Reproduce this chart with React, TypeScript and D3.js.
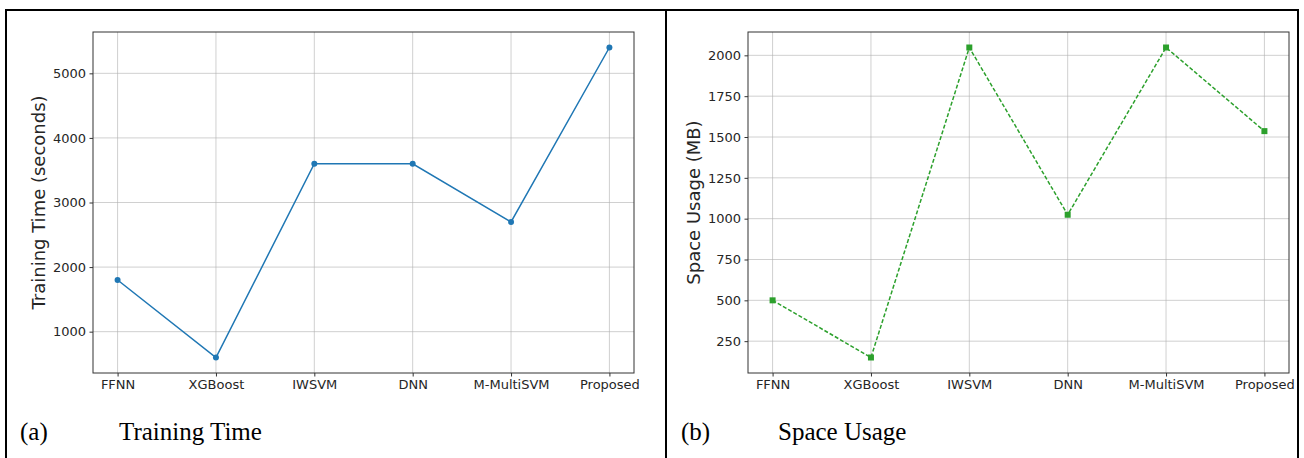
import React, { useEffect, useRef } from 'react';
import * as d3 from 'd3';

const models = ['FFNN', 'XGBoost', 'IWSVM', 'DNN', 'M-MultiSVM', 'Proposed'];
const trainingTime = [1800, 600, 3600, 3600, 2700, 5400];
const spaceUsage = [500, 150, 2048, 1024, 2048, 1536];
const timeTicks = [1000, 2000, 3000, 4000, 5000];
const spaceTicks = [250, 500, 750, 1000, 1250, 1500, 1750, 2000];

const W = 1304;
const H = 458;

type Panel = {
  left: number;
  right: number;
  values: number[];
  ticks: number[];
  yLabel: string;
  color: string;
  dashed: boolean;
  marker: 'circle' | 'square';
  tag: string;
  caption: string;
};

const panels: Panel[] = [
  {
    left: 93, right: 634, values: trainingTime, ticks: timeTicks,
    yLabel: 'Training Time (seconds)', color: '#1f77b4', dashed: false,
    marker: 'circle', tag: '(a)', caption: 'Training Time'
  },
  {
    left: 748, right: 1289, values: spaceUsage, ticks: spaceTicks,
    yLabel: 'Space Usage (MB)', color: '#2ca02c', dashed: true,
    marker: 'square', tag: '(b)', caption: 'Space Usage'
  }
];

const TOP = 32;
const BOTTOM = 373;

function drawPanel(svg: d3.Selection<SVGSVGElement, unknown, null, undefined>, p: Panel) {
  const x = d3.scaleLinear()
    .domain([-0.25, models.length - 0.75])
    .range([p.left, p.right]);
  const lo = d3.min(p.values)!;
  const hi = d3.max(p.values)!;
  const pad = (hi - lo) * 0.05;
  const y = d3.scaleLinear().domain([lo - pad, hi + pad]).range([BOTTOM, TOP]);

  const g = svg.append('g');

  // grid
  g.append('g')
    .selectAll('line')
    .data(p.ticks)
    .join('line')
    .attr('x1', p.left).attr('x2', p.right)
    .attr('y1', d => y(d)).attr('y2', d => y(d))
    .attr('stroke', '#b0b0b0').attr('stroke-opacity', 0.6).attr('stroke-width', 1);
  g.append('g')
    .selectAll('line')
    .data(models.map((_, i) => i))
    .join('line')
    .attr('x1', d => x(d)).attr('x2', d => x(d))
    .attr('y1', TOP).attr('y2', BOTTOM)
    .attr('stroke', '#b0b0b0').attr('stroke-opacity', 0.6).attr('stroke-width', 1);

  // axes
  const xAxis = d3.axisBottom(x)
    .tickValues(models.map((_, i) => i))
    .tickFormat((d) => models[d as number])
    .tickSize(3.5).tickPadding(3.5);
  const yAxis = d3.axisLeft(y)
    .tickValues(p.ticks)
    .tickFormat(d3.format('d'))
    .tickSize(3.5).tickPadding(3.5);

  const ax = g.append('g').attr('transform', `translate(0,${BOTTOM})`).call(xAxis);
  const ay = g.append('g').attr('transform', `translate(${p.left},0)`).call(yAxis);
  [ax, ay].forEach(a => {
    a.select('.domain').remove();
    a.selectAll('line').attr('stroke', '#333');
    a.selectAll('text')
      .attr('fill', '#262626')
      .style('font-family', '"DejaVu Sans", sans-serif')
      .style('font-size', '13px');
  });

  g.append('rect')
    .attr('x', p.left).attr('y', TOP)
    .attr('width', p.right - p.left).attr('height', BOTTOM - TOP)
    .attr('fill', 'none').attr('stroke', '#333').attr('stroke-width', 1);

  // y label
  g.append('text')
    .attr('transform', `translate(${p.left - 48},${(TOP + BOTTOM) / 2}) rotate(-90)`)
    .attr('text-anchor', 'middle')
    .attr('fill', '#262626')
    .style('font-family', '"DejaVu Sans", sans-serif')
    .style('font-size', '18px')
    .text(p.yLabel);

  // series
  const line = d3.line<number>().x((_, i) => x(i)).y(d => y(d));
  g.append('path')
    .datum(p.values)
    .attr('d', line)
    .attr('fill', 'none')
    .attr('stroke', p.color)
    .attr('stroke-width', 1.5)
    .attr('stroke-dasharray', p.dashed ? '4,2' : null);

  if (p.marker === 'circle') {
    g.append('g').selectAll('circle')
      .data(p.values)
      .join('circle')
      .attr('cx', (_, i) => x(i)).attr('cy', d => y(d))
      .attr('r', 3).attr('fill', p.color);
  } else {
    g.append('g').selectAll('rect')
      .data(p.values)
      .join('rect')
      .attr('x', (_, i) => x(i) - 3).attr('y', d => y(d) - 3)
      .attr('width', 6).attr('height', 6).attr('fill', p.color);
  }
}

export default function App() {
  const ref = useRef<SVGSVGElement>(null);

  useEffect(() => {
    const svg = d3.select(ref.current!);
    svg.selectAll('*').remove();

    // table borders
    const border = svg.append('g').attr('stroke', '#000').attr('stroke-width', 2);
    border.append('line').attr('x1', 5).attr('x2', 1299).attr('y1', 10).attr('y2', 10);
    border.append('line').attr('x1', 6).attr('x2', 6).attr('y1', 9).attr('y2', H);
    border.append('line').attr('x1', 666).attr('x2', 666).attr('y1', 9).attr('y2', H);
    border.append('line').attr('x1', 1298).attr('x2', 1298).attr('y1', 9).attr('y2', H);

    panels.forEach(p => drawPanel(svg, p));

    // captions
    const captions = [
      { tagX: 20, capX: 119, p: panels[0] },
      { tagX: 681, capX: 778, p: panels[1] }
    ];
    captions.forEach(c => {
      const t = svg.append('g')
        .style('font-family', '"Liberation Serif", "Times New Roman", serif')
        .style('font-size', '25px')
        .attr('fill', '#000');
      t.append('text').attr('x', c.tagX).attr('y', 440).text(c.p.tag);
      t.append('text').attr('x', c.capX).attr('y', 440).text(c.p.caption);
    });
  }, []);

  return (
    <svg
      ref={ref}
      width={W}
      height={H}
      style={{ position: 'absolute', left: 0, top: 0, background: '#fff' }}
    />
  );
}
